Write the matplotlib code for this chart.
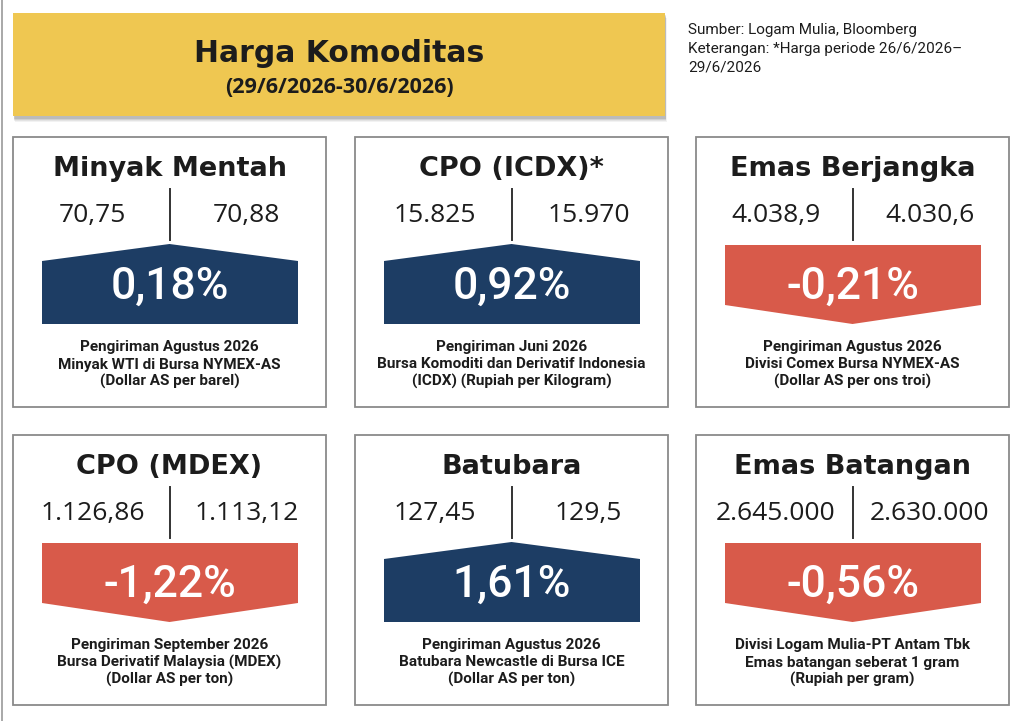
import matplotlib
matplotlib.use("Agg")
import matplotlib.pyplot as plt
from matplotlib.patches import Rectangle, Polygon

# ---- data ----
header_title = "Harga Komoditas"
header_period = "(29/6/2026-30/6/2026)"
source_lines = ["Sumber: Logam Mulia, Bloomberg",
                "Keterangan: *Harga periode 26/6/2026\u2013",
                "29/6/2026"]
titles = ["Minyak Mentah", "CPO (ICDX)*", "Emas Berjangka",
          "CPO (MDEX)", "Batubara", "Emas Batangan"]
prev_values = ["70,75", "15.825", "4.038,9", "1.126,86", "127,45", "2.645.000"]
curr_values = ["70,88", "15.970", "4.030,6", "1.113,12", "129,5", "2.630.000"]
changes = [0.18, 0.92, -0.21, -1.22, 1.61, -0.56]
notes = [
    ["Pengiriman Agustus 2026", "Minyak WTI di Bursa NYMEX-AS", "(Dollar AS per barel)"],
    ["Pengiriman Juni 2026", "Bursa Komoditi dan Derivatif Indonesia", "(ICDX) (Rupiah per Kilogram)"],
    ["Pengiriman Agustus 2026", "Divisi Comex Bursa NYMEX-AS", "(Dollar AS per ons troi)"],
    ["Pengiriman September 2026", "Bursa Derivatif Malaysia (MDEX)", "(Dollar AS per ton)"],
    ["Pengiriman Agustus 2026", "Batubara Newcastle di Bursa ICE", "(Dollar AS per ton)"],
    ["Divisi Logam Mulia-PT Antam Tbk", "Emas batangan seberat 1 gram", "(Rupiah per gram)"],
]

# ---- style ----
NAVY = "#1d3d64"
RED = "#d85a4a"
YELLOW = "#efc751"
BORDER = "#8a8a8a"
TXT = "#1c1c1c"
HEAVY = ["DejaVu Sans"]
REG = ["Open Sans", "DejaVu Sans"]
PCT = ["Roboto", "DejaVu Sans"]
NARROW = ["Liberation Sans Narrow", "Roboto", "DejaVu Sans"]

fig = plt.figure(figsize=(10.21, 7.21), dpi=100)
ax = fig.add_axes([0, 0, 1, 1])
ax.set_xlim(0, 1021)
ax.set_ylim(721, 0)
ax.axis("off")

# left frame edge
ax.plot([1.5, 1.5], [0, 721], color="#9a9a9a", lw=1.2)

# header box with soft shadow
for i, a in enumerate([0.05, 0.06, 0.08, 0.10]):
    off = 5 - i
    ax.add_patch(Rectangle((13 + off * 0.3, 13 + off), 652, 104, color="#000000",
                           alpha=a, lw=0, zorder=1))
ax.add_patch(Rectangle((13, 13), 652, 103, facecolor=YELLOW, edgecolor="none", zorder=2))
ax.text(339, 62, header_title, ha="center", va="baseline", fontsize=21.5,
        fontweight="bold", family=HEAVY, color=TXT, zorder=3)
ax.text(339, 93, header_period, ha="center", va="baseline", fontsize=15.5,
        fontweight="bold", family=REG, color=TXT, zorder=3)
for k, line in enumerate(source_lines):
    ax.text(688, 34 + k * 18.5, line, ha="left", va="baseline", fontsize=11,
            family=NARROW, color=TXT)

# cards
col_x = [13, 355, 696]
row_y = [137, 435]
card_w, card_h = 313, 270

for idx in range(6):
    r, c = divmod(idx, 3)
    x0, y0 = col_x[c], row_y[r]
    cx = x0 + card_w / 2
    ax.add_patch(Rectangle((x0, y0), card_w, card_h, facecolor="white",
                           edgecolor=BORDER, lw=1.3, zorder=2))
    ax.text(cx, y0 + 39, titles[idx], ha="center", va="baseline", fontsize=19.5,
            fontweight="bold", family=HEAVY, color=TXT, zorder=3)
    ax.text(cx - 77, y0 + 85, prev_values[idx], ha="center", va="baseline",
            fontsize=19, family=REG, color=TXT, zorder=3)
    ax.text(cx + 77, y0 + 85, curr_values[idx], ha="center", va="baseline",
            fontsize=19, family=REG, color=TXT, zorder=3)
    ax.plot([cx, cx], [y0 + 52, y0 + 103], color="#333333", lw=1.4, zorder=3)

    left, right = x0 + 29, x0 + card_w - 28
    v = changes[idx]
    if v >= 0:
        pts = [(left, y0 + 124), (cx, y0 + 107), (right, y0 + 124),
               (right, y0 + 187), (left, y0 + 187)]
        col = NAVY
    else:
        pts = [(left, y0 + 108), (right, y0 + 108), (right, y0 + 168),
               (cx, y0 + 187), (left, y0 + 168)]
        col = RED
    ax.add_patch(Polygon(pts, closed=True, facecolor=col, edgecolor="none", zorder=3))
    label = f"{v:.2f}".replace(".", ",") + "%"
    ax.text(cx, y0 + 162, label, ha="center", va="baseline", fontsize=32,
            fontweight="medium", family=PCT, color="white", zorder=4)

    for k, line in enumerate(notes[idx]):
        ax.text(cx, y0 + 214 + k * 17.5, line, ha="center", va="baseline",
                fontsize=11, fontweight="bold", family=NARROW, color=TXT, zorder=3)

fig.savefig("out.png", dpi=100)
